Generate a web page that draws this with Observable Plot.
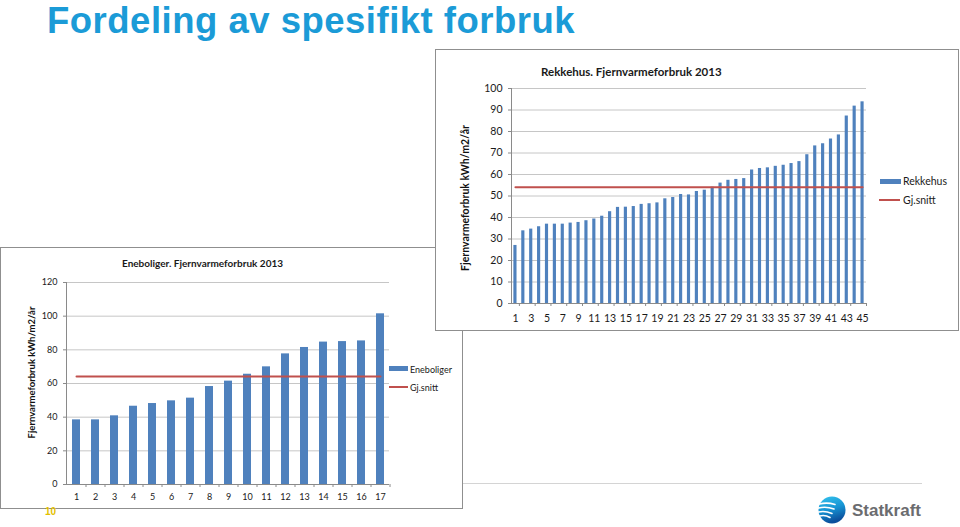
<!DOCTYPE html>
<html>
<head>
<meta charset="utf-8">
<script src="https://cdn.jsdelivr.net/npm/d3@7"></script>
<script src="https://cdn.jsdelivr.net/npm/@observablehq/plot@0.6"></script>
<style>
html,body{margin:0;padding:0;background:#fff;}
#slide{position:relative;width:960px;height:527px;overflow:hidden;background:#fff;font-family:Lato,"Open Sans",sans-serif;}
.abs{position:absolute;white-space:nowrap;}
.box{position:absolute;box-sizing:border-box;border:1px solid #8f8f8f;background:#fff;}
</style>
</head>
<body>
<div id="slide"></div>
<script>
// ---- data ----
const slideTitle = "Fordeling av spesifikt forbruk";
const yAxisTitle = "Fjernvarmeforbruk kWh/m2/år";

const eneTitle = "Eneboliger. Fjernvarmeforbruk 2013";
const eneSeriesName = "Eneboliger";
const eneCategories = [1,2,3,4,5,6,7,8,9,10,11,12,13,14,15,16,17];
const eneValues = [38.4,38.4,40.8,46.5,48.1,49.7,51.3,58.2,61.4,65.5,69.9,77.6,81.4,84.6,84.9,85.3,101.4];
const eneAverage = 64.2;
const eneYTicks = [0,20,40,60,80,100,120];
const eneXLabels = [1,2,3,4,5,6,7,8,9,10,11,12,13,14,15,16,17];

const rekTitle = "Rekkehus. Fjernvarmeforbruk 2013";
const rekSeriesName = "Rekkehus";
const rekCategories = [1,2,3,4,5,6,7,8,9,10,11,12,13,14,15,16,17,18,19,20,21,22,23,24,25,26,27,28,29,30,31,32,33,34,35,36,37,38,39,40,41,42,43,44,45];
const rekValues = [27.0,33.8,34.6,35.7,36.9,36.9,36.9,37.4,37.7,38.5,39.3,40.6,42.7,44.7,44.8,45.1,46.1,46.4,46.8,48.7,49.3,50.7,50.5,52.1,52.7,54.1,56.0,57.3,57.7,58.1,62.1,62.8,63.1,63.8,64.3,65.1,66.0,69.2,73.3,74.3,76.5,78.4,87.2,91.8,93.8];
const rekAverage = 54.1;
const rekYTicks = [0,10,20,30,40,50,60,70,80,90,100];
const rekXLabels = [1,3,5,7,9,11,13,15,17,19,21,23,25,27,29,31,33,35,37,39,41,43,45];

const avgName = "Gj.snitt";
const pageNumber = "10";
const logoText = "Statkraft";

// ---- styles ----
const BAR = "#4f81bd", AVG = "#c0504d", GRID = "#c6c6c6", AXIS = "#8a8a8a";

const slide = document.getElementById("slide");

function addText(txt, left, centerY, size, opts = {}) {
  const d = document.createElement("div");
  d.className = "abs";
  d.textContent = txt;
  const lh = Math.round(size * 1.4);
  d.style.left = left + "px";
  d.style.top = (centerY - lh / 2) + "px";
  d.style.fontSize = size + "px";
  d.style.lineHeight = lh + "px";
  d.style.color = opts.color || "#1a1a1a";
  if (opts.weight) d.style.fontWeight = opts.weight;
  if (opts.family) d.style.fontFamily = opts.family;
  slide.appendChild(d);
  return d;
}
function addRect(left, top, w, h, color) {
  const d = document.createElement("div");
  d.className = "abs";
  Object.assign(d.style, {left: left + "px", top: top + "px", width: w + "px", height: h + "px", background: color});
  slide.appendChild(d);
}
function addBox(left, top, w, h) {
  const d = document.createElement("div");
  d.className = "box";
  Object.assign(d.style, {left: left + "px", top: top + "px", width: w + "px", height: h + "px"});
  slide.appendChild(d);
}

function chart(cfg) {
  const {cats, vals, avg, yTicks, xLabels, width, height, mL, mR, mT, mB, yMax, fs, xPad, labelDx, labelDy} = cfg;
  const rows = cats.map((c, i) => ({c, v: vals[i]}));
  const step = (width - mL - mR) / cats.length;
  const boundaryTicks = cfg.boundaryTicks;
  const svg = Plot.plot({
    width, height,
    marginLeft: mL, marginRight: mR, marginTop: mT, marginBottom: mB,
    style: {fontFamily: "Lato, 'Open Sans', sans-serif", fontSize: fs + "px", color: "#1a1a1a", background: "transparent", overflow: "visible", maxWidth: "none"},
    x: {type: "band", domain: cats, paddingInner: 0.6, paddingOuter: 0.3, align: 0.5},
    y: {domain: [0, yMax]},
    marks: [
      Plot.gridY(yTicks, {stroke: GRID, strokeOpacity: 1}),
      Plot.barY(rows, {x: "c", y: "v", fill: BAR}),
      Plot.ruleY([0], {stroke: AXIS}),
      Plot.frame({anchor: "left", stroke: AXIS}),
      Plot.axisY(yTicks, {tickSize: 3, tickPadding: 6, stroke: AXIS, fill: "#1a1a1a", label: null}),
      Plot.axisX(xLabels, {tickSize: 0, tickPadding: xPad, fill: "#1a1a1a", label: null}),
      Plot.axisX(boundaryTicks, {tickSize: 3, tickFormat: () => "", dx: step / 2, stroke: AXIS, label: null}),
      Plot.lineY(rows, {x: "c", y: () => avg, stroke: AVG, strokeWidth: 2}),
      Plot.text([yAxisTitle], {frameAnchor: "left", text: d => d, textAnchor: "middle", lineAnchor: "middle", rotate: -90, dx: labelDx, dy: labelDy, fontWeight: "bold", fontSize: cfg.labelFs, fill: "#111"})
    ]
  });
  return svg;
}

function placeSvg(svg, left, top) {
  svg.style.position = "absolute";
  svg.style.left = left + "px";
  svg.style.top = top + "px";
  slide.appendChild(svg);
}

// footer line
addRect(0, 483, 922, 1, "#d4d4d4");

// slide title
const t = addText(slideTitle, 47, 20, 36.5, {color: "#1b9bd7", weight: "bold", family: "'Liberation Sans', Arial, sans-serif"});
t.style.lineHeight = "41px"; t.style.top = "0px"; t.style.letterSpacing = "0.5px";

// ---- Eneboliger chart ----
addBox(0, 247, 463, 262);
placeSvg(chart({
  cats: eneCategories, vals: eneValues, avg: eneAverage, yTicks: eneYTicks, xLabels: eneXLabels,
  boundaryTicks: eneCategories,
  width: 400, height: 242, mL: 66, mR: 11, mT: 20, mB: 20, yMax: 120, fs: 9, xPad: 9.5,
  labelDx: -35, labelDy: -11, labelFs: 9.5
}), 0, 262);
addText(eneTitle, 122, 263, 10, {weight: "bold"});
addRect(389, 366, 19, 5, BAR);
addText(eneSeriesName, 410, 369, 9);
addRect(389, 386, 19, 2, AVG);
addText(avgName, 410, 387, 9);

// ---- Rekkehus chart ----
addBox(435, 49, 524, 282);
placeSvg(chart({
  cats: rekCategories, vals: rekValues, avg: rekAverage, yTicks: rekYTicks, xLabels: rekXLabels,
  boundaryTicks: rekXLabels,
  width: 440, height: 250, mL: 75, mR: 10, mT: 10, mB: 25, yMax: 100, fs: 10.5, xPad: 11,
  labelDx: -46, labelDy: 2, labelFs: 10.5
}), 436, 78);
addText(rekTitle, 541, 72, 11.5, {weight: "bold"});
addRect(880, 179, 21, 5, BAR);
addText(rekSeriesName, 903, 181, 10.5);
addRect(879, 199, 21, 2, AVG);
addText(avgName, 903, 200, 10.5);

// page number
addText(pageNumber, 45, 512, 10, {color: "#e2bf00", weight: "bold", family: "'Liberation Sans', Arial, sans-serif"});

// logo
const logo = document.createElementNS("http://www.w3.org/2000/svg", "svg");
logo.setAttribute("width", 30); logo.setAttribute("height", 30);
logo.style.position = "absolute"; logo.style.left = "817px"; logo.style.top = "495px";
logo.innerHTML = `
<defs><linearGradient id="lg" x1="0" y1="0" x2="0.3" y2="1">
<stop offset="0" stop-color="#35c4ee"/><stop offset="0.55" stop-color="#1693d3"/><stop offset="1" stop-color="#0b4f9c"/></linearGradient></defs>
<circle cx="15" cy="15" r="13.5" fill="url(#lg)"/>
<g stroke="#fff" stroke-width="1.6" fill="none" stroke-linecap="round">
<path d="M2.5 9 Q10 7 18 9.5"/><path d="M1.6 13 Q9 11 17 14"/><path d="M1.6 17 Q8 15.5 15 18.5"/><path d="M2.6 21 Q8 19.5 13 22.5"/>
</g>`;
slide.appendChild(logo);
addText(logoText, 852, 511, 17, {color: "#6b6c6f", weight: "bold", family: "'Liberation Sans', Arial, sans-serif"});
</script>
</body>
</html>
